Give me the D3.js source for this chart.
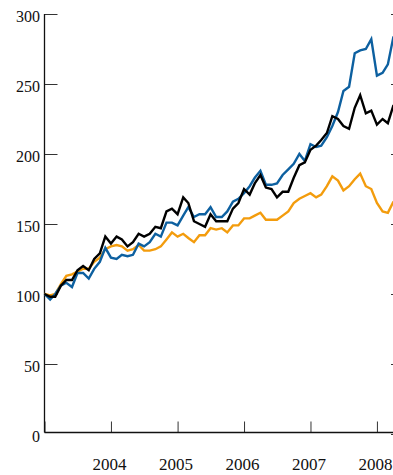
<!DOCTYPE html>
<html>
<head>
<meta charset="utf-8">
<script src="https://cdn.jsdelivr.net/npm/d3@7"></script>
<style>
  body { margin: 0; background: #fff; }
  svg text { font-family: "Liberation Serif", "DejaVu Serif", serif; fill: #111; }
</style>
</head>
<body>
<svg id="chart" width="393" height="475"></svg>
<script>
// monthly index values, Jan 2003 = 100
var startYear = 2003;
var blueSeries = [100, 96, 100, 106, 108, 105, 115, 115, 111, 118, 123, 133,
  126, 125, 128, 127, 128, 136, 134, 137, 143, 141, 151, 151,
  149, 156, 162, 155, 157, 157, 162, 155, 155, 159, 166, 168,
  172, 177, 183, 188, 178, 178, 179, 185, 189, 193, 200, 195,
  207, 205, 206, 212, 220, 230, 245, 248, 272, 274, 275, 282,
  256, 258, 264, 284];
var blackSeries = [100, 98, 98, 106, 110, 110, 117, 120, 117, 125, 129, 141,
  136, 141, 139, 134, 137, 143, 141, 143, 148, 147, 159, 161,
  157, 169, 165, 152, 150, 148, 157, 152, 152, 152, 161, 165,
  175, 171, 179, 185, 176, 175, 169, 173, 173, 183, 192, 194,
  203, 206, 210, 215, 227, 225, 220, 218, 233, 242, 229, 231,
  221, 225, 222, 235];
var orangeSeries = [100, 99, 100, 107, 113, 114, 116, 118, 118, 123, 126, 132,
  134, 135, 134, 131, 132, 135, 131, 131, 132, 134, 139, 144,
  141, 143, 140, 137, 142, 142, 147, 146, 147, 144, 149, 149,
  154, 154, 156, 158, 153, 153, 153, 156, 159, 165, 168, 170,
  172, 169, 171, 177, 184, 181, 174, 177, 182, 186, 177, 175,
  165, 159, 158, 166];
var yTicks = [0, 50, 100, 150, 200, 250, 300];
var xTickYears = [2003, 2004, 2005, 2006, 2007, 2008];

var svg = d3.select("#chart");
var plotLeft = 44.5, plotRight = 393.5, plotTop = 14, plotBottom = 434;

var x = d3.scaleTime()
    .domain([new Date(2003, 0, 1), new Date(2008, 3, 1)])
    .range([plotLeft, plotRight]);
var y = d3.scaleLinear().domain([0, 300]).range([plotBottom, plotTop]);

function toPoints(arr) {
  return arr.map(function(v, i) { return {date: new Date(startYear, i, 1), value: v}; });
}

var line = d3.line()
    .x(function(d) { return x(d.date); })
    .y(function(d) { return y(d.value); });

// axes
var yAxis = d3.axisLeft(y).tickValues(yTicks).tickSize(-13).tickPadding(0).tickFormat(d3.format("d"));
var gy = svg.append("g").attr("transform", "translate(" + plotLeft + ",0)").call(yAxis);
gy.select(".domain").remove();
gy.selectAll(".tick line").attr("stroke", "#333");
gy.selectAll(".tick text")
    .attr("x", -4.5).attr("dy", "0.48em")
    .style("font-size", "16px");
gy.selectAll(".tick").filter(function(d) { return d === 0; }).select("line").remove();

var yAxisR = d3.axisRight(y).tickValues(yTicks).tickSize(-13).tickFormat("");
var gr = svg.append("g").attr("transform", "translate(404,0)").call(yAxisR);
gr.select(".domain").remove();
gr.selectAll(".tick line").attr("stroke", "#333");

var xAxis = d3.axisBottom(x)
    .tickValues(xTickYears.map(function(yr) { return new Date(yr, 0, 1); }))
    .tickSize(-11).tickFormat(function(d) { return d.getFullYear() === 2003 ? "" : d3.timeFormat("%Y")(d); });
var gx = svg.append("g").attr("transform", "translate(0," + (plotBottom - 1.5) + ")").call(xAxis);
gx.select(".domain").remove();
gx.selectAll(".tick line").attr("stroke", "#333");
gx.selectAll(".tick text")
    .attr("y", 37.5).attr("dx", -2).attr("dy", 0)
    .style("font-size", "17px");

svg.append("line")
    .attr("x1", plotLeft).attr("x2", plotLeft)
    .attr("y1", y(300)).attr("y2", plotBottom - 1.5)
    .attr("stroke", "#111").attr("stroke-width", 1.3);
svg.append("line")
    .attr("x1", plotLeft).attr("x2", 393)
    .attr("y1", plotBottom - 1.5).attr("y2", plotBottom - 1.5)
    .attr("stroke", "#111").attr("stroke-width", 1.3);

// series
var series = [
  {data: orangeSeries, color: "#f39c0d"},
  {data: blueSeries, color: "#0d60a0"},
  {data: blackSeries, color: "#000000"}
];
series.forEach(function(s) {
  svg.append("path")
      .datum(toPoints(s.data))
      .attr("fill", "none")
      .attr("stroke", s.color)
      .attr("stroke-width", 2.4)
      .attr("stroke-linejoin", "miter")
      .attr("d", line);
});
</script>
</body>
</html>
